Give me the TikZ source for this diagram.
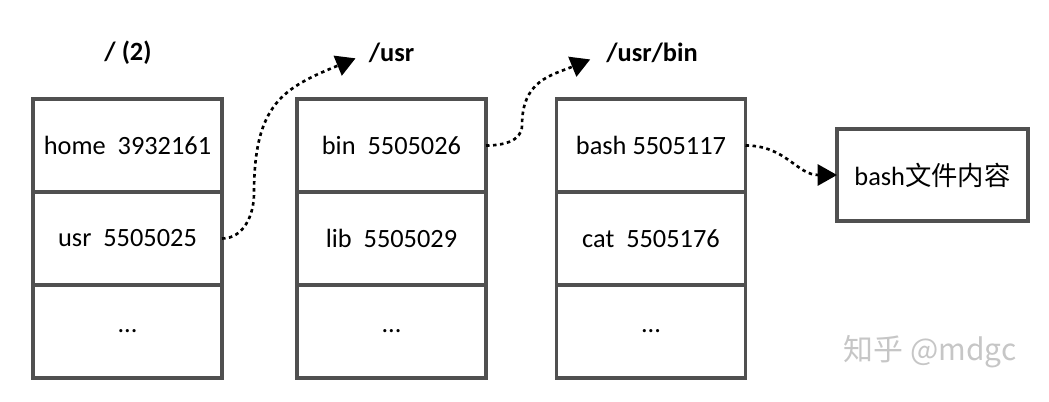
\documentclass[tikz,border=0pt]{standalone}
\usepackage{fontspec}
\setmainfont{Carlito}
\newfontfamily\cjk{Noto Sans CJK SC}
\usetikzlibrary{positioning}
\usetikzlibrary{arrows.meta}
\definecolor{boxgray}{HTML}{505050}

\begin{document}
\begin{tikzpicture}[
    cell/.style={draw=boxgray, line width=1.8pt, minimum width=3.78cm, minimum height=1.86cm,
        outer sep=0pt, inner sep=0pt, font=\fontsize{15}{18}\selectfont},
    dirname/.style={font=\fontsize{15}{18}\selectfont\bfseries, inner sep=0pt},
    link/.style={line width=1.5pt, dash pattern=on 2pt off 2pt, -{Triangle[length=11pt, width=12pt]}},
]
    \useasboundingbox (0,0) rectangle (20.98,8.02);

    % /
    \node [cell] (home) at (2.55,5.11) {home~ 3932161};
    \node [cell, below=0pt of home] (usr) {usr~ 5505025};
    \node [cell, below=0pt of usr] (rootmore) {...};
    \node [dirname] (root) at (2.56,6.96) {/ (2)};

    % /usr
    \node [cell] (bin) at (7.83,5.11) {bin~ 5505026};
    \node [cell, below=0pt of bin] (lib) {lib~ 5505029};
    \node [cell, below=0pt of lib] (usrmore) {...};
    \node [dirname] (usrdir) at (7.83,6.96) {/usr};

    % /usr/bin
    \node [cell] (bash) at (13.02,5.11) {bash 5505117};
    \node [cell, below=0pt of bash] (cat) {cat~ 5505176};
    \node [cell, below=0pt of cat] (binmore) {...};
    \node [dirname] (bindir) at (13.04,6.96) {/usr/bin};

    % file content
    \node [cell, minimum width=3.82cm, minimum height=1.84cm] (content) at (18.65,4.52) {bash{\cjk 文件内容}};

    \draw [link, shorten >=0.28cm] (usr.east) to[out=0, in=-90] ++(0.64,0.9)
        .. controls +(0,1.8) and +(-1.7,-0.7) .. (usrdir.west);
    \draw [link, shorten >=0.34cm] (bin.east) to[out=0, in=-90] ++(0.72,0.4)
        .. controls +(0,0.9) and +(-1.1,-0.45) .. (bindir.west);
    \draw [link] (bash.east) .. controls +(0.8,0) and +(-0.8,0) .. (content.west);

    \node [text=gray!45, font=\cjk\fontsize{17}{20}\selectfont] (mark) at (18.6,0.98) {知乎 @mdgc};
\end{tikzpicture}
\end{document}
